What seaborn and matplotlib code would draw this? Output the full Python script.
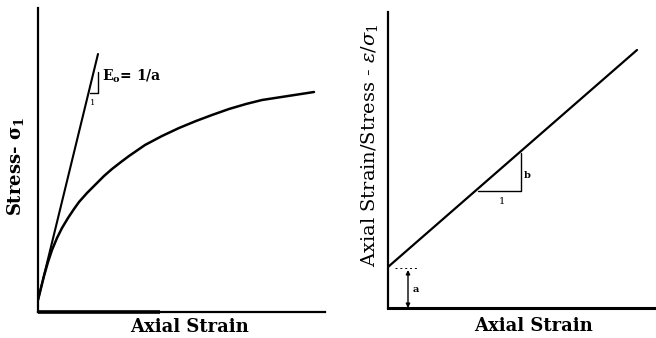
import matplotlib
matplotlib.use("Agg")
import matplotlib.pyplot as plt
import seaborn as sns
import pandas as pd

sns.set_theme(style="white")
plt.rcParams['font.family'] = ['DejaVu Serif', 'Liberation Serif']
plt.rcParams['mathtext.fontset'] = 'dejavuserif'
plt.rcParams['text.color'] = '#000000'

# ---- data (arbitrary units) ----
# Left: hyperbolic stress-strain curve
curve_strain = [0, 3, 6, 10, 14, 19, 24, 30, 36, 41, 49, 58, 66, 74, 83, 91,
                107, 124, 141, 158, 174, 191, 208, 224, 250, 276]
curve_stress = [12, 24, 36, 50, 62, 74, 84, 94, 103, 110, 119, 128, 136, 143,
                150, 156, 167, 176, 184, 191, 197, 203, 208, 212, 216, 220]
# initial tangent
tangent_strain = [0, 60]
tangent_stress = [12, 258]
# Right: transformed linear plot
lin_strain = [0, 249]
lin_ratio = [41, 258]
intercept_a = 40

INK = "#000000"
W, H = 656, 338
fig = plt.figure(figsize=(W / 100, H / 100), dpi=100)


def px_axes(x0, y0, x1, y1):
    return fig.add_axes([x0 / W, (H - y1) / H, (x1 - x0) / W, (y1 - y0) / H])


def style(ax, xmax, ymax):
    ax.set_xlim(0, xmax)
    ax.set_ylim(0, ymax)
    ax.set_xticks([])
    ax.set_yticks([])
    for s in ["top", "right"]:
        ax.spines[s].set_visible(False)
    for s in ["left", "bottom"]:
        ax.spines[s].set_color(INK)
        ax.spines[s].set_linewidth(1.6)
    ax.patch.set_alpha(0)


# ---------- left panel ----------
axL = px_axes(38, 8, 325, 312)
style(axL, 287, 304)
dfc = pd.DataFrame({"strain": curve_strain, "stress": curve_stress})
sns.lineplot(data=dfc, x="strain", y="stress", ax=axL, color=INK, lw=1.8,
             sort=False, estimator=None)
dft = pd.DataFrame({"strain": tangent_strain, "stress": tangent_stress})
sns.lineplot(data=dft, x="strain", y="stress", ax=axL, color=INK, lw=1.5,
             sort=False, estimator=None)
# thick start of x-axis
axL.plot([0, 122], [0, 0], color=INK, lw=2.6, clip_on=False, solid_capstyle="butt")
# slope triangle
axL.plot([52, 60, 60], [219, 219, 240], color=INK, lw=1.0)
axL.text(55, 209, "1", fontsize=6, ha="center", va="center")
axL.text(64, 236, r"E$_\mathbf{o}$= 1/a", fontsize=10, fontweight="bold",
         ha="left", va="center")
axL.set_xlabel("")
axL.set_ylabel("")
fig.text(189 / W, 1 - 327 / H, "Axial Strain", fontsize=13, fontweight="bold",
         ha="center", va="center")
fig.text(16 / W, 1 - 166 / H, r"Stress- $\mathbf{\sigma_1}$", fontsize=13,
         fontweight="bold", rotation=90, ha="center", va="center")

# ---------- right panel ----------
axR = px_axes(388, 12, 655, 308)
style(axR, 267, 296)
dfl = pd.DataFrame({"strain": lin_strain, "ratio": lin_ratio})
sns.lineplot(data=dfl, x="strain", y="ratio", ax=axR, color=INK, lw=1.6,
             sort=False, estimator=None)
axR.spines["bottom"].set_linewidth(2.2)
# slope triangle
axR.plot([90, 133, 133], [117, 117, 155], color=INK, lw=1.0)
axR.text(139, 133, "b", fontsize=7, fontweight="bold", ha="center", va="center")
axR.text(114, 106, "1", fontsize=7, ha="center", va="center")
# intercept a
axR.plot([7, 30], [intercept_a, intercept_a], color=INK, lw=0.7, ls=(0, (2, 3)))
axR.annotate("", xy=(20, intercept_a - 2), xytext=(20, 0),
             arrowprops=dict(arrowstyle="<|-|>", color=INK, lw=1.0,
                             mutation_scale=6, shrinkA=0, shrinkB=0))
axR.text(28, 18, "a", fontsize=7, fontweight="bold", ha="center", va="center")
axR.set_xlabel("")
axR.set_ylabel("")
fig.text(533 / W, 1 - 326 / H, "Axial Strain", fontsize=13, fontweight="bold",
         ha="center", va="center")
fig.text(370 / W, 1 - 145 / H, r"Axial Strain/Stress - $\varepsilon$/$\sigma_1$",
         fontsize=14, rotation=90, ha="center", va="center")

fig.savefig("out.png", dpi=100, facecolor="white")
